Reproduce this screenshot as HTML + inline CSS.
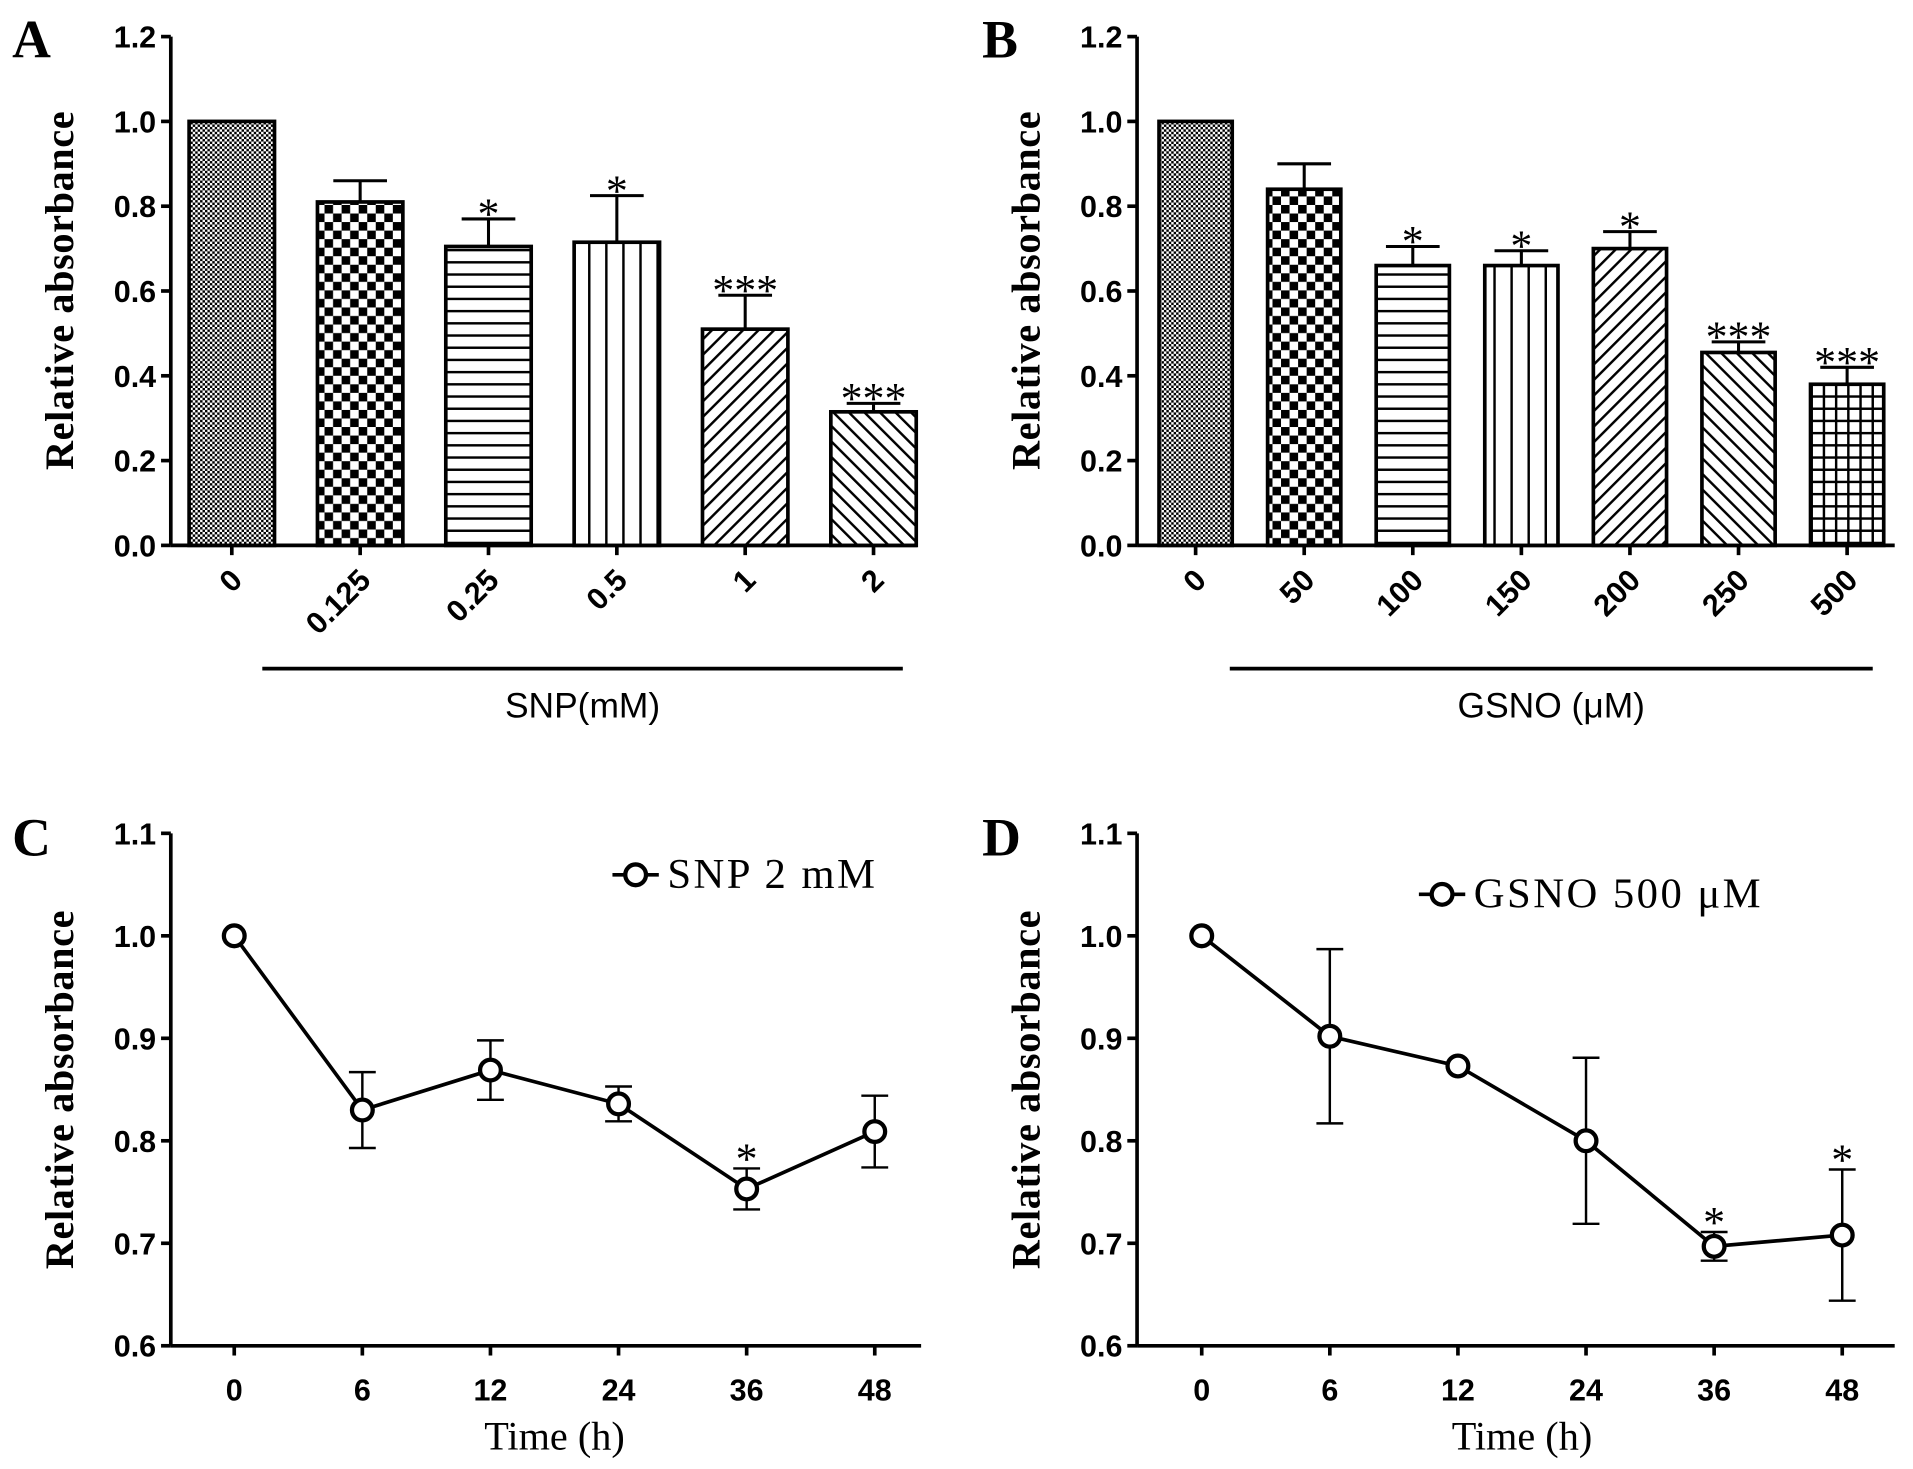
<!DOCTYPE html>
<html><head><meta charset="utf-8"><style>
html,body{margin:0;padding:0;background:#fff;}
svg{display:block;}
.tk{font-family:"Liberation Sans",sans-serif;font-weight:bold;font-size:25px;}
.yt{font-family:"Liberation Serif",serif;font-weight:bold;font-size:33px;letter-spacing:0.5px;}
.pl{font-family:"Liberation Serif",serif;font-weight:bold;font-size:44px;}
.st{font-family:"Liberation Serif",serif;font-size:36px;}
.xl{font-family:"Liberation Sans",sans-serif;font-size:29px;}
.sx{font-family:"Liberation Serif",serif;font-size:33px;}
.lgt{font-family:"Liberation Serif",serif;font-size:35px;letter-spacing:2px;}
.sg{font-family:"Liberation Serif",serif;font-size:36px;}
</style></head><body>
<svg id="fig" width="1913" height="1469" viewBox="0 0 1568 1204" preserveAspectRatio="none" xmlns="http://www.w3.org/2000/svg">
<defs>
<pattern id="p0" width="4" height="4" patternUnits="userSpaceOnUse"><rect width="4" height="4" fill="#fff"/><rect width="2" height="2" fill="#000"/><rect x="2" y="2" width="2" height="2" fill="#000"/></pattern>
<pattern id="p1" width="14" height="14" patternUnits="userSpaceOnUse"><rect width="14" height="14" fill="#fff"/><rect width="7" height="7" fill="#000"/><rect x="7" y="7" width="7" height="7" fill="#000"/></pattern>
<pattern id="p2" width="10" height="10" patternUnits="userSpaceOnUse"><rect width="10" height="10" fill="#fff"/><rect y="4" width="10" height="2" fill="#000"/></pattern>
<pattern id="p3" width="14" height="10" patternUnits="userSpaceOnUse"><rect width="14" height="10" fill="#fff"/><rect x="6" width="2" height="10" fill="#000"/></pattern>
<pattern id="p4" width="9" height="9" patternUnits="userSpaceOnUse" patternTransform="rotate(45)"><rect width="9" height="9" fill="#fff"/><rect width="2" height="9" fill="#000"/></pattern>
<pattern id="p5" width="9" height="9" patternUnits="userSpaceOnUse" patternTransform="rotate(-45)"><rect width="9" height="9" fill="#fff"/><rect width="2" height="9" fill="#000"/></pattern>
<pattern id="p6" width="10" height="10" patternUnits="userSpaceOnUse"><rect width="10" height="10" fill="#fff"/><rect y="4" width="10" height="2" fill="#000"/><rect x="4" width="2" height="10" fill="#000"/></pattern>
</defs>
<g id="root"></g>
</svg>
<script>
const NS="http://www.w3.org/2000/svg";
const root=document.getElementById('root');
function mk(tag,attrs,parent,text){const e=document.createElementNS(NS,tag);for(const k in attrs)e.setAttribute(k,attrs[k]);if(text!==undefined)e.textContent=text;(parent||root).appendChild(e);return e;}

// Panel A data
const catsA=["0","0.125","0.25","0.5","1","2"];
const valsA=[1.0,0.81,0.705,0.715,0.51,0.315];
const errA=[0,0.05,0.065,0.11,0.08,0.02];
const sigA=["","","*","*","***","***"];
const patA=["p0","p1","p2","p3","p4","p5"];
// Panel B data
const catsB=["0","50","100","150","200","250","500"];
const valsB=[1.0,0.84,0.66,0.66,0.70,0.455,0.38];
const errB=[0,0.06,0.045,0.035,0.04,0.025,0.04];
const sigB=["","","*","*","*","***","***"];
const patB=["p0","p1","p2","p3","p4","p5","p6"];
// Panel C/D data
const timeCats=["0","6","12","24","36","48"];
const valsC=[1.0,0.83,0.869,0.836,0.753,0.809];
const errC=[0,0.037,0.029,0.017,0.02,0.035];
const sigC=["","","","","*",""];
const valsD=[1.0,0.902,0.873,0.80,0.697,0.708];
const errD=[0,0.085,0,0.081,0.014,0.064];
const sigD=["","","","","*","*"];
const barTicks=[0,0.2,0.4,0.6,0.8,1.0,1.2];
const lineTicks=[0.6,0.7,0.8,0.9,1.0,1.1];

function yTitle(x,cy,name){const t=mk('text',{x:x,y:cy,class:'yt','text-anchor':'middle',transform:`rotate(-90 ${x} ${cy})`},root,'Relative absorbance');}

function barPanel(o){
  const g=mk('g',{});
  const y=v=>o.y0-(v-0)/(1.2)*(o.y0-o.y1);
  const x=i=>o.xs+i*o.step;
  mk('line',{x1:o.ax,y1:o.y1,x2:o.ax,y2:o.y0,stroke:'#000','stroke-width':3},g);
  mk('line',{x1:o.ax,y1:o.y0,x2:o.axEnd,y2:o.y0,stroke:'#000','stroke-width':3},g);
  barTicks.forEach(t=>{mk('line',{x1:o.ax-8,y1:y(t),x2:o.ax,y2:y(t),stroke:'#000','stroke-width':3},g);
    const l=mk('text',{x:o.ax-12,y:y(t)+9,class:'tk','text-anchor':'end'},g,t.toFixed(1));});
  o.cats.forEach((c,i)=>{
    const cx=x(i),top=y(o.vals[i]);
    mk('line',{x1:cx,y1:o.y0,x2:cx,y2:o.y0+8,stroke:'#000','stroke-width':3},g);
    const r=mk('rect',{x:cx-o.bw/2,y:top,width:o.bw,height:o.y0-top,fill:`url(#${o.pats[i]})`,stroke:'#000','stroke-width':3},g);
    
    let ty=top;
    if(o.err[i]>0){const e=y(o.vals[i]+o.err[i]);mk('line',{x1:cx,y1:top,x2:cx,y2:e,stroke:'#000','stroke-width':2.5},g);mk('line',{x1:cx-22,y1:e,x2:cx+22,y2:e,stroke:'#000','stroke-width':2.5},g);ty=e;}
    if(o.sig[i]){const s=mk('text',{x:cx,y:ty+8,class:'st','text-anchor':'middle'},g,o.sig[i]);}
    const lx=cx+10,ly=o.y0+30;
    const l=mk('text',{x:lx,y:ly,class:'tk','text-anchor':'end',transform:`rotate(-45 ${lx} ${ly})`},g,c);
  });
  mk('line',{x1:o.ulx1,y1:548,x2:o.ulx2,y2:548,stroke:'#000','stroke-width':3},g);
  const xl=mk('text',{x:(o.ulx1+o.ulx2)/2,y:588,class:'xl','text-anchor':'middle'},g,o.xlabel);
}

function linePanel(o){
  const g=mk('g',{});
  const y=v=>o.y0-(v-0.6)/0.5*(o.y0-o.y1);
  const x=i=>o.xs+i*o.step;
  mk('line',{x1:o.ax,y1:o.y1,x2:o.ax,y2:o.y0,stroke:'#000','stroke-width':3},g);
  mk('line',{x1:o.ax,y1:o.y0,x2:o.axEnd,y2:o.y0,stroke:'#000','stroke-width':3},g);
  lineTicks.forEach(t=>{mk('line',{x1:o.ax-8,y1:y(t),x2:o.ax,y2:y(t),stroke:'#000','stroke-width':3},g);
    const l=mk('text',{x:o.ax-12,y:y(t)+9,class:'tk','text-anchor':'end'},g,t.toFixed(1));});
  timeCats.forEach((c,i)=>{mk('line',{x1:x(i),y1:o.y0,x2:x(i),y2:o.y0+8,stroke:'#000','stroke-width':3},g);
    const l=mk('text',{x:x(i),y:o.y0+45,class:'tk','text-anchor':'middle'},g,c);});
  const pts=o.vals.map((v,i)=>`${x(i)},${y(v)}`).join(' ');
  const pl=mk('polyline',{points:pts,fill:'none',stroke:'#000','stroke-width':3},g);
  o.vals.forEach((v,i)=>{
    const cx=x(i);let top=y(v);
    if(o.err[i]>0){const a=y(v+o.err[i]),b=y(v-o.err[i]);mk('line',{x1:cx,y1:a,x2:cx,y2:b,stroke:'#000','stroke-width':2},g);
      mk('line',{x1:cx-11,y1:a,x2:cx+11,y2:a,stroke:'#000','stroke-width':2},g);mk('line',{x1:cx-11,y1:b,x2:cx+11,y2:b,stroke:'#000','stroke-width':2},g);top=a;}
    const p=mk('circle',{cx:cx,cy:y(v),r:8.5,fill:'#fff',stroke:'#000','stroke-width':3.5},g);
    if(o.sig[i]){const s=mk('text',{x:cx,y:Math.min(top,y(v)-10)+4,class:'sg','text-anchor':'middle'},g,o.sig[i]);}
  });
  const lg=mk('g',{},g);
  mk('line',{x1:o.lgx,y1:o.lgy,x2:o.lgx+38,y2:o.lgy,stroke:'#000','stroke-width':3},lg);
  mk('circle',{cx:o.lgx+19,cy:o.lgy,r:8.5,fill:'#fff',stroke:'#000','stroke-width':3.5},lg);
  mk('text',{x:o.lgx+45,y:o.lgy+11,class:'lgt'},lg,o.legend);
  const xl=mk('text',{x:(o.xs+x(5))/2,y:o.y0+85,class:'sx','text-anchor':'middle'},g,'Time (h)');
}

barPanel({name:'panel-a',ax:140,axEnd:752,y0:447,y1:30,xs:190,step:105.2,bw:70,cats:catsA,vals:valsA,err:errA,sig:sigA,pats:patA,ulx1:215,ulx2:740,xlabel:'SNP(mM)'});
barPanel({name:'panel-b',ax:932,axEnd:1553,y0:447,y1:30,xs:980,step:89,bw:60,cats:catsB,vals:valsB,err:errB,sig:sigB,pats:patB,ulx1:1008,ulx2:1535,xlabel:'GSNO (\u03bcM)'});
linePanel({name:'panel-c',ax:140,axEnd:755,y0:1103,y1:683,xs:192,step:105,vals:valsC,err:errC,sig:sigC,lgx:502,lgy:717,legend:'SNP 2 mM'});
linePanel({name:'panel-d',ax:932,axEnd:1553,y0:1103,y1:683,xs:985,step:105,vals:valsD,err:errD,sig:sigD,lgx:1163,lgy:733,legend:'GSNO 500 \u03bcM'});
yTitle(60,238,'y-axis-title-a');yTitle(852,238,'y-axis-title-b');yTitle(60,893,'y-axis-title-c');yTitle(852,893,'y-axis-title-d');
[['A',10,47],['B',805,47],['C',10,701],['D',805,701]].forEach(a=>{const t=mk('text',{x:a[1],y:a[2],class:'pl'},root,a[0]);});
</script>
</body></html>
